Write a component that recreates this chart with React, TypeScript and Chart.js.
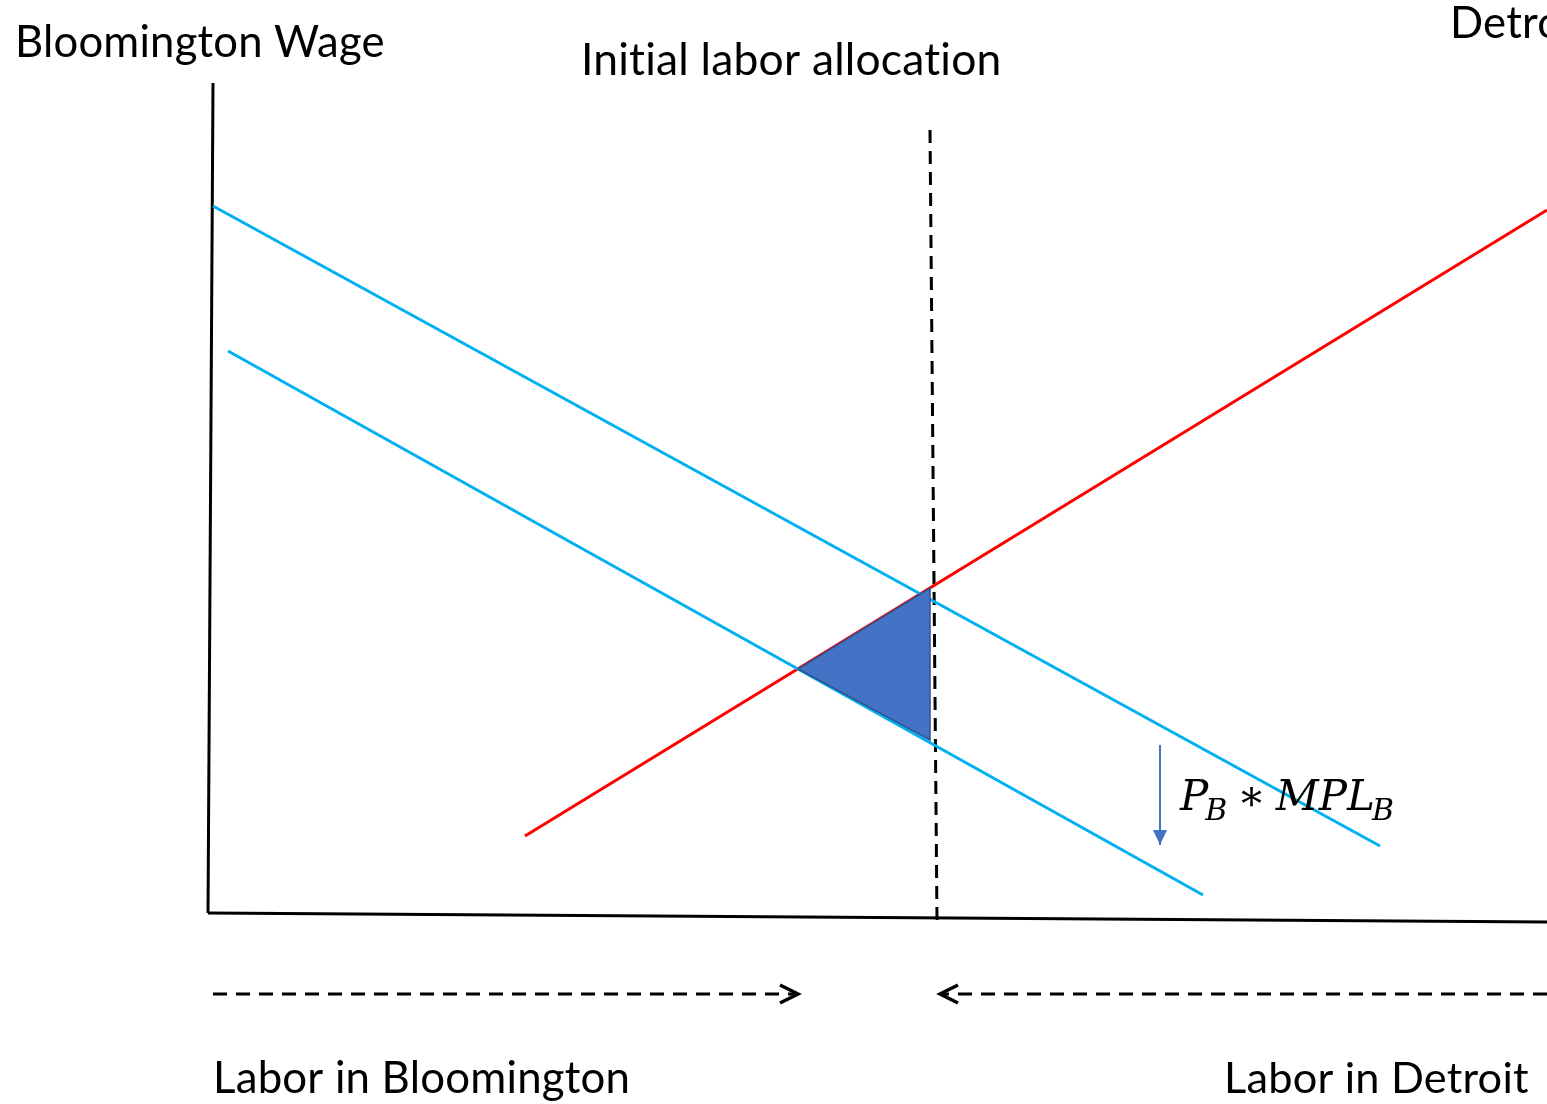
import React, { useEffect, useRef } from "react";
import { Chart, registerables } from "chart.js";

Chart.register(...registerables);

// ---- Data (labor units on x, wage units on y) ----
const wageAxisX = [213, 208];
const wageAxisY = [1021, 191];
const laborAxisX = [208, 1547];
const laborAxisY = [191, 182];
const mplHighX = [213, 1380];
const mplHighY = [898, 258];
const mplLowX = [228, 1203];
const mplLowY = [753, 209];
const detroitMplX = [525, 1547];
const detroitMplY = [268, 894];
const initialAllocX = [930, 937];
const initialAllocY = [974, 184];
const lossX = [798, 930, 930, 798];
const lossY = [435, 516, 364, 435];
const shiftX = [1160, 1160];
const shiftY = [359, 259];
const bloomFlowX = [213, 798];
const bloomFlowY = [110, 110];
const detroitFlowX = [1547, 940];
const detroitFlowY = [110, 110];

const textLabels = [
  "Bloomington Wage",
  "Initial labor allocation",
  "Detroit Wage",
  "Labor in Bloomington",
  "Labor in Detroit",
];
const mathParts = ["P", "B", "\u2217", "MPL", "B"];

const W = 1547;
const H = 1104;

const pts = (xs: number[], ys: number[]) => xs.map((x, i) => ({ x, y: ys[i] }));

// label layout: [x, baseline (pixel), target width]
const labelLayout: [number, number, number][] = [
  [15, 57, 368],
  [581, 75, 418],
  [1450, 38, 0],
  [213, 1093, 415],
  [1224, 1093, 303],
];

const fitFont = (ctx: CanvasRenderingContext2D, text: string, width: number, family: string) => {
  ctx.font = `100px ${family}`;
  const w = ctx.measureText(text).width;
  return (100 * width) / w;
};

const overlayPlugin = {
  id: "overlay",
  afterDatasetsDraw(chart: any) {
    const ctx: CanvasRenderingContext2D = chart.ctx;
    ctx.save();
    // arrowheads
    chart.data.datasets.forEach((ds: any, i: number) => {
      if (!ds.arrow) return;
      const meta = chart.getDatasetMeta(i);
      const n = meta.data.length;
      const a = meta.data[n - 2];
      const b = meta.data[n - 1];
      const ang = Math.atan2(b.y - a.y, b.x - a.x);
      const len = ds.arrow.len;
      const half = ds.arrow.half;
      const p1 = {
        x: b.x - len * Math.cos(ang) + half * Math.sin(ang),
        y: b.y - len * Math.sin(ang) - half * Math.cos(ang),
      };
      const p2 = {
        x: b.x - len * Math.cos(ang) - half * Math.sin(ang),
        y: b.y - len * Math.sin(ang) + half * Math.cos(ang),
      };
      ctx.setLineDash([]);
      ctx.beginPath();
      ctx.moveTo(p1.x, p1.y);
      ctx.lineTo(b.x, b.y);
      ctx.lineTo(p2.x, p2.y);
      if (ds.arrow.filled) {
        ctx.closePath();
        ctx.fillStyle = ds.borderColor;
        ctx.fill();
      } else {
        ctx.strokeStyle = ds.borderColor;
        ctx.lineWidth = ds.arrow.width;
        ctx.lineJoin = "miter";
        ctx.stroke();
      }
    });

    // text labels
    ctx.fillStyle = "#000";
    ctx.textBaseline = "alphabetic";
    ctx.textAlign = "left";
    try {
      (ctx as any).letterSpacing = "0.2px";
    } catch (e) {}
    const fam = "Lato, 'Open Sans', sans-serif";
    const baseSize = fitFont(ctx, textLabels[0], labelLayout[0][2], fam);
    textLabels.forEach((t, i) => {
      const [x, y, w] = labelLayout[i];
      const size = w === 0 ? baseSize : fitFont(ctx, t, w, fam);
      ctx.font = `${size}px ${fam}`;
      ctx.fillText(t, x, y);
    });
    try {
      (ctx as any).letterSpacing = "0px";
    } catch (e) {}

    // math label
    const xs = chart.scales.x;
    const ys = chart.scales.y;
    let cx = xs.getPixelForValue(1180);
    const base = ys.getPixelForValue(294);
    const serif = "'DejaVu Serif', serif";
    const big = 42;
    const small = 30;
    ctx.font = `italic ${big}px ${serif}`;
    ctx.fillText(mathParts[0], cx, base);
    cx += ctx.measureText(mathParts[0]).width - 3;
    ctx.font = `italic ${small}px ${serif}`;
    ctx.fillText(mathParts[1], cx, base + 10);
    cx += ctx.measureText(mathParts[1]).width + 10;
    ctx.font = `${big}px ${serif}`;
    ctx.fillText(mathParts[2], cx, base);
    cx += ctx.measureText(mathParts[2]).width + 10;
    ctx.font = `italic ${big}px ${serif}`;
    ctx.fillText(mathParts[3], cx, base);
    cx += ctx.measureText(mathParts[3]).width - 3;
    ctx.font = `italic ${small}px ${serif}`;
    ctx.fillText(mathParts[4], cx, base + 10);
    ctx.restore();
  },
};

export default function App() {
  const ref = useRef<HTMLCanvasElement | null>(null);
  useEffect(() => {
    if (!ref.current) return;
    const line = (xs: number[], ys: number[], color: string, width: number, extra: any = {}) => ({
      data: pts(xs, ys),
      showLine: true,
      borderColor: color,
      borderWidth: width,
      pointRadius: 0,
      fill: false,
      tension: 0,
      clip: false,
      ...extra,
    });
    const chart = new Chart(ref.current, {
      type: "scatter",
      data: {
        datasets: [
          line(lossX, lossY, "#2F528F", 1.5, {
            fill: "shape",
            backgroundColor: "#4472C4",
          }),
          line(mplHighX, mplHighY, "#00B0F0", 3),
          line(mplLowX, mplLowY, "#00B0F0", 3),
          line(detroitMplX, detroitMplY, "#FF0000", 3),
          line(initialAllocX, initialAllocY, "#000000", 3, { borderDash: [13, 8] }),
          line(wageAxisX, wageAxisY, "#000000", 3),
          line(laborAxisX, laborAxisY, "#000000", 3),
          line(shiftX, shiftY, "#4472C4", 2, { arrow: { len: 15, half: 7, filled: true } }),
          line(bloomFlowX, bloomFlowY, "#000000", 3, {
            borderDash: [14, 9],
            arrow: { len: 18, half: 9, filled: false, width: 3.5 },
          }),
          line(detroitFlowX, detroitFlowY, "#000000", 3, {
            borderDash: [14, 9],
            arrow: { len: 18, half: 9, filled: false, width: 3.5 },
          }),
        ] as any,
      },
      options: {
        animation: false,
        responsive: false,
        maintainAspectRatio: false,
        layout: { padding: 0 },
        plugins: { legend: { display: false }, tooltip: { enabled: false } },
        scales: {
          x: { type: "linear", min: 0, max: W, display: false },
          y: { type: "linear", min: 0, max: H, display: false },
        },
      },
      plugins: [overlayPlugin],
    });
    return () => chart.destroy();
  }, []);
  return (
    <div style={{ position: "fixed", left: 0, top: 0, width: W, height: H, background: "#fff" }}>
      <canvas ref={ref} width={W} height={H} style={{ display: "block" }} />
    </div>
  );
}
